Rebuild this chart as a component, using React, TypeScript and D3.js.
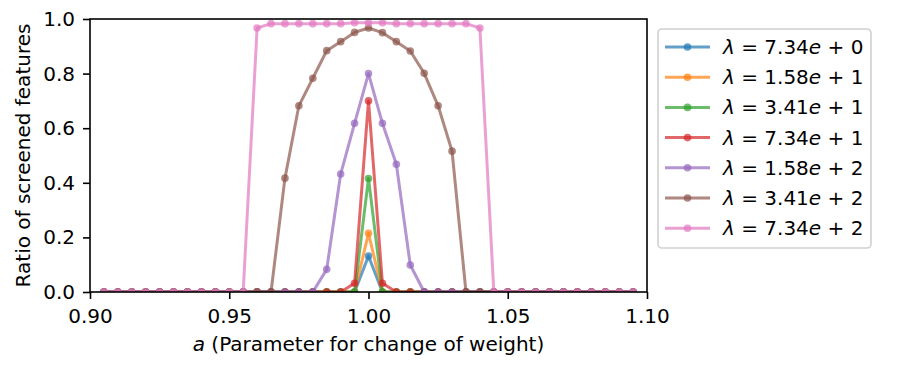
import React, { useRef, useEffect } from "react";
import * as d3 from "d3";

// a values (x axis)
const aValues = [
  0.905, 0.91, 0.915, 0.92, 0.925, 0.93, 0.935, 0.94, 0.945, 0.95,
  0.955, 0.96, 0.965, 0.97, 0.975, 0.98, 0.985, 0.99, 0.995, 1.0,
  1.005, 1.01, 1.015, 1.02, 1.025, 1.03, 1.035, 1.04, 1.045, 1.05,
  1.055, 1.06, 1.065, 1.07, 1.075, 1.08, 1.085, 1.09, 1.095,
];

const lambdaLabels = ["7.34", "1.58", "3.41", "7.34", "1.58", "3.41", "7.34"];
const lambdaExps = ["0", "1", "1", "1", "2", "2", "2"];
const colors = ["#1f77b4", "#ff7f0e", "#2ca02c", "#d62728", "#9467bd", "#8c564b", "#e377c2"];

const ratio0 = [
  0, 0, 0, 0, 0, 0, 0, 0, 0, 0,
  0, 0, 0, 0, 0, 0, 0, 0, 0, 0.132,
  0, 0, 0, 0, 0, 0, 0, 0, 0, 0,
  0, 0, 0, 0, 0, 0, 0, 0, 0,
];
const ratio1 = [
  0, 0, 0, 0, 0, 0, 0, 0, 0, 0,
  0, 0, 0, 0, 0, 0, 0, 0, 0, 0.215,
  0, 0, 0, 0, 0, 0, 0, 0, 0, 0,
  0, 0, 0, 0, 0, 0, 0, 0, 0,
];
const ratio2 = [
  0, 0, 0, 0, 0, 0, 0, 0, 0, 0,
  0, 0, 0, 0, 0, 0, 0, 0, 0, 0.416,
  0, 0, 0, 0, 0, 0, 0, 0, 0, 0,
  0, 0, 0, 0, 0, 0, 0, 0, 0,
];
const ratio3 = [
  0, 0, 0, 0, 0, 0, 0, 0, 0, 0,
  0, 0, 0, 0, 0, 0, 0, 0, 0.032, 0.7,
  0.032, 0, 0, 0, 0, 0, 0, 0, 0, 0,
  0, 0, 0, 0, 0, 0, 0, 0, 0,
];
const ratio4 = [
  0, 0, 0, 0, 0, 0, 0, 0, 0, 0,
  0, 0, 0, 0, 0, 0, 0.083, 0.432, 0.618, 0.8,
  0.618, 0.468, 0.099, 0, 0, 0, 0, 0, 0, 0,
  0, 0, 0, 0, 0, 0, 0, 0, 0,
];
const ratio5 = [
  0, 0, 0, 0, 0, 0, 0, 0, 0, 0,
  0, 0, 0, 0.417, 0.682, 0.783, 0.884, 0.917, 0.951, 0.967,
  0.95, 0.917, 0.883, 0.801, 0.682, 0.516, 0, 0, 0, 0,
  0, 0, 0, 0, 0, 0, 0, 0, 0,
];
const ratio6 = [
  0, 0, 0, 0, 0, 0, 0, 0, 0, 0,
  0, 0.967, 0.983, 0.983, 0.983, 0.983, 0.983, 0.983, 0.986, 0.986,
  0.986, 0.983, 0.983, 0.983, 0.983, 0.983, 0.983, 0.967, 0, 0,
  0, 0, 0, 0, 0, 0, 0, 0, 0,
];

const xTicks = [0.9, 0.95, 1.0, 1.05, 1.1];
const yTicks = [0, 0.2, 0.4, 0.6, 0.8, 1.0];

const series = [ratio0, ratio1, ratio2, ratio3, ratio4, ratio5, ratio6];

const W = 900;
const H = 375;
const FONT = "DejaVu Sans, sans-serif";

export default function App() {
  const svgRef = useRef<SVGSVGElement>(null);

  useEffect(() => {
    if (!svgRef.current) return;
    const svg = d3.select(svgRef.current);
    svg.selectAll("*").remove();

    const left = 90, right = 647, top = 19, bottom = 292;

    const x = d3.scaleLinear().domain([0.9, 1.1]).range([left, right]);
    const y = d3.scaleLinear().domain([0, 1]).range([bottom, top]);

    svg.append("rect").attr("width", W).attr("height", H).attr("fill", "#fff");

    svg.append("defs").append("clipPath").attr("id", "plotclip")
      .append("rect")
      .attr("x", left).attr("y", top)
      .attr("width", right - left).attr("height", bottom - top);

    const plot = svg.append("g").attr("clip-path", "url(#plotclip)");
    const line = d3.line<number>()
      .x((_, i) => x(aValues[i]))
      .y((d) => y(d));

    series.forEach((vals, k) => {
      const g = plot.append("g");
      g.append("path")
        .attr("d", line(vals))
        .attr("fill", "none")
        .attr("stroke", colors[k])
        .attr("stroke-width", 3)
        .attr("stroke-opacity", 0.7)
        .attr("stroke-linejoin", "round")
        .attr("stroke-linecap", "square");
      g.selectAll("circle")
        .data(vals)
        .enter()
        .append("circle")
        .attr("cx", (_, i) => x(aValues[i]))
        .attr("cy", (d) => y(d))
        .attr("r", 3.8)
        .attr("fill", colors[k])
        .attr("fill-opacity", 0.7);
    });

    // axes
    const xAxis = svg.append("g")
      .attr("transform", `translate(0,${bottom})`)
      .call(d3.axisBottom(x).tickValues(xTicks).tickFormat(d3.format(".2f")).tickSize(7).tickPadding(10));
    const yAxis = svg.append("g")
      .attr("transform", `translate(${left},0)`)
      .call(d3.axisLeft(y).tickValues(yTicks).tickFormat(d3.format(".1f")).tickSize(7).tickPadding(8));
    [xAxis, yAxis].forEach((ax) => {
      ax.select(".domain").remove();
      ax.selectAll(".tick line").attr("stroke", "#000").attr("stroke-width", 1.6);
      ax.selectAll(".tick text")
        .attr("fill", "#000")
        .style("font-family", FONT)
        .style("font-size", "20px");
    });

    svg.append("rect")
      .attr("x", left).attr("y", top)
      .attr("width", right - left).attr("height", bottom - top)
      .attr("fill", "none").attr("stroke", "#000").attr("stroke-width", 1.6);

    // axis labels
    const xl = svg.append("text")
      .attr("x", (left + right) / 2)
      .attr("y", 351)
      .attr("text-anchor", "middle")
      .style("font-family", FONT)
      .style("font-size", "20px");
    xl.append("tspan").attr("font-style", "italic").text("a");
    xl.append("tspan").text(" (Parameter for change of weight)");

    svg.append("text")
      .attr("transform", `translate(30,${(top + bottom) / 2}) rotate(-90)`)
      .attr("text-anchor", "middle")
      .style("font-family", FONT)
      .style("font-size", "20px")
      .text("Ratio of screened features");

    // legend
    const lg = svg.append("g");
    lg.append("rect")
      .attr("x", 658).attr("y", 29).attr("width", 213).attr("height", 219)
      .attr("rx", 4)
      .attr("fill", "#fff").attr("fill-opacity", 0.8)
      .attr("stroke", "#d0d0d0").attr("stroke-width", 1.6);

    lambdaLabels.forEach((lab, k) => {
      const cy = 47 + k * 30.2;
      lg.append("line")
        .attr("x1", 665).attr("x2", 710).attr("y1", cy).attr("y2", cy)
        .attr("stroke", colors[k]).attr("stroke-width", 3).attr("stroke-opacity", 0.7);
      lg.append("circle")
        .attr("cx", 687.5).attr("cy", cy).attr("r", 3.8)
        .attr("fill", colors[k]).attr("fill-opacity", 0.7);
      const t = lg.append("text")
        .attr("x", 723).attr("y", cy + 7)
        .style("font-family", FONT)
        .style("font-size", "20px");
      t.append("tspan").attr("font-style", "italic").text("λ");
      t.append("tspan").text(" = " + lab);
      t.append("tspan").attr("font-style", "italic").text("e");
      t.append("tspan").text(" + " + lambdaExps[k]);
    });
  }, []);

  return (
    <svg ref={svgRef} width={W} height={H} style={{ display: "block", position: "absolute", left: 0, top: 0 }} />
  );
}
